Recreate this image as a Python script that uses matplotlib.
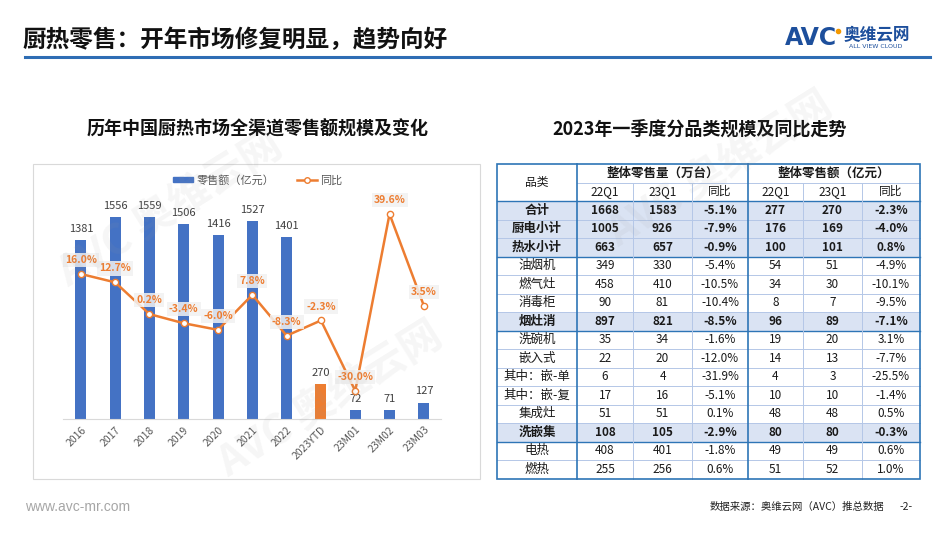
import matplotlib.pyplot as plt
from matplotlib.patches import Rectangle
from matplotlib.lines import Line2D

plt.rcParams['font.family'] = ['Noto Sans CJK SC', 'DejaVu Sans']

# ---- chart data ----
categories = ['2016', '2017', '2018', '2019', '2020', '2021', '2022',
              '2023YTD', '23M01', '23M02', '23M03']
sales = [1381, 1556, 1559, 1506, 1416, 1527, 1401, 270, 72, 71, 127]
yoy = [16.0, 12.7, 0.2, -3.4, -6.0, 7.8, -8.3, -2.3, -30.0, 39.6, 3.5]

# ---- table data ----
row_names = ['合计', '厨电小计', '热水小计', '油烟机', '燃气灶', '消毒柜', '烟灶消',
             '洗碗机', '嵌入式', '其中：嵌-单', '其中：嵌-复', '集成灶', '洗嵌集',
             '电热', '燃热']
vol_22q1 = [1668, 1005, 663, 349, 458, 90, 897, 35, 22, 6, 17, 51, 108, 408, 255]
vol_23q1 = [1583, 926, 657, 330, 410, 81, 821, 34, 20, 4, 16, 51, 105, 401, 256]
vol_yoy = ['-5.1%', '-7.9%', '-0.9%', '-5.4%', '-10.5%', '-10.4%', '-8.5%',
           '-1.6%', '-12.0%', '-31.9%', '-5.1%', '0.1%', '-2.9%', '-1.8%', '0.6%']
val_22q1 = [277, 176, 100, 54, 34, 8, 96, 19, 14, 4, 10, 48, 80, 49, 51]
val_23q1 = [270, 169, 101, 51, 30, 7, 89, 20, 13, 3, 10, 48, 80, 49, 52]
val_yoy = ['-2.3%', '-4.0%', '0.8%', '-4.9%', '-10.1%', '-9.5%', '-7.1%',
           '3.1%', '-7.7%', '-25.5%', '-1.4%', '0.5%', '-0.3%', '0.6%', '1.0%']
bold_rows = ['合计', '厨电小计', '热水小计', '烟灶消', '洗嵌集']

BLUE = '#4472C4'
ORANGE = '#ED7D31'
W, H = 950, 535

fig = plt.figure(figsize=(9.5, 5.35), dpi=100)

# full-figure overlay in pixel units for the slide furniture and the table
bg = fig.add_axes([0, 0, 1, 1])
bg.set_xlim(0, W)
bg.set_ylim(H, 0)
bg.axis('off')

# header
bg.text(22, 40, '厨热零售：开年市场修复明显，趋势向好', fontsize=17, fontweight='bold',
        va='center', ha='left', color='#111111')
bg.plot([25, 930], [57, 57], color='#2e6db4', lw=2.2)
bg.text(785, 38, 'AVC', fontsize=17, fontweight='bold',
        color='#1d4f9c', va='center', ha='left', family='DejaVu Sans')
bg.plot([838], [31], 'o', color='#f39800', ms=3)
bg.text(844, 35, '奥维云网', fontsize=12, fontweight='bold', color='#1d4f9c',
        va='center', ha='left')
bg.text(849, 47, 'ALL VIEW CLOUD', fontsize=4.5, color='#1d4f9c', va='center',
        ha='left', family='DejaVu Sans')

# section titles
bg.text(258, 129, '历年中国厨热市场全渠道零售额规模及变化', fontsize=13,
        fontweight='bold', ha='center', va='center', color='#111111')
bg.text(700, 129, '2023年一季度分品类规模及同比走势', fontsize=13,
        fontweight='bold', ha='center', va='center', color='#111111')

# chart frame
bg.add_patch(Rectangle((33, 164), 447, 315, fill=False, ec='#d9d9d9', lw=0.8))

# footer
bg.text(25, 507, 'www.avc-mr.com', fontsize=10, color='#a6a6a6', va='center',
        family='Liberation Sans')
bg.text(884, 507, '数据来源：奥维云网（AVC）推总数据', fontsize=7.5, color='#222222',
        va='center', ha='right')
bg.text(900, 507, '-2-', fontsize=7.5, color='#222222', va='center', ha='left')

# ---- table ----
col_x = [497, 577, 633, 692, 748, 803, 862, 920]
top, rh = 164, 18.5
n_rows = len(row_names) + 2
bottom = top + n_rows * rh
LINE_LIGHT = '#b4c7e7'
LINE_BLUE = '#2e75b6'
SHADE = '#dae3f3'

for i, name in enumerate(row_names):
    y0 = top + (i + 2) * rh
    if name in bold_rows:
        bg.add_patch(Rectangle((col_x[0], y0), col_x[-1] - col_x[0], rh,
                               fc=SHADE, ec='none', zorder=1))
    weight = 'bold' if name in bold_rows else 'normal'
    cells = [name, vol_22q1[i], vol_23q1[i], vol_yoy[i],
             val_22q1[i], val_23q1[i], val_yoy[i]]
    for j, c in enumerate(cells):
        cx = (col_x[j] + col_x[j + 1]) / 2
        bg.text(cx, y0 + rh / 2, str(c), ha='center', va='center',
                fontsize=8.5 if j else 9, fontweight=weight, color='#1a1a1a', zorder=3)

# header cells
bg.text((col_x[0] + col_x[1]) / 2, top + rh, '品类', ha='center', va='center',
        fontsize=8.5, color='#1a1a1a', zorder=3)
bg.text((col_x[1] + col_x[4]) / 2, top + rh / 2, '整体零售量（万台）', ha='center',
        va='center', fontsize=9, fontweight='bold', color='#1a1a1a', zorder=3)
bg.text((col_x[4] + col_x[7]) / 2, top + rh / 2, '整体零售额（亿元）', ha='center',
        va='center', fontsize=9, fontweight='bold', color='#1a1a1a', zorder=3)
for j, h in enumerate(['22Q1', '23Q1', '同比', '22Q1', '23Q1', '同比']):
    cx = (col_x[j + 1] + col_x[j + 2]) / 2
    bg.text(cx, top + 1.5 * rh, h, ha='center', va='center', fontsize=8.5,
            color='#1a1a1a', zorder=3)

# grid lines
for k in range(1, n_rows):
    y = top + k * rh
    x0 = col_x[1] if k == 1 else col_x[0]
    bg.plot([x0, col_x[-1]], [y, y], color=LINE_LIGHT, lw=0.7, zorder=2)
for k in [2, 5, 9, 15]:
    y = top + k * rh
    bg.plot([col_x[0], col_x[-1]], [y, y], color=LINE_BLUE, lw=1.0, zorder=2)
for x in [col_x[2], col_x[3], col_x[5], col_x[6]]:
    bg.plot([x, x], [top + rh, bottom], color=LINE_LIGHT, lw=0.7, zorder=2)
for x in [col_x[1], col_x[4]]:
    bg.plot([x, x], [top, bottom], color=LINE_BLUE, lw=1.2, zorder=2)
bg.add_patch(Rectangle((col_x[0], top), col_x[-1] - col_x[0], bottom - top,
                       fill=False, ec=LINE_BLUE, lw=1.2, zorder=2))

# ---- bar + line chart ----
ax_l, ax_r, ax_t, ax_b = 63, 441, 190, 419
ax = fig.add_axes([ax_l / W, 1 - ax_b / H, (ax_r - ax_l) / W, (ax_b - ax_t) / H])
ax.patch.set_alpha(0)
x = list(range(len(categories)))
colors = [ORANGE if c == '2023YTD' else BLUE for c in categories]
ax.bar(x, sales, width=0.32, color=colors, zorder=2)
for xi, v in zip(x, sales):
    ax.annotate(str(v), (xi, v), xytext=(0, 8), textcoords='offset points',
                ha='center', va='center', fontsize=8, color='#404040')
ax.set_xlim(-0.52, 10.5)
ax.set_ylim(0, 1767)
ax.set_yticks([])
for s in ['top', 'right', 'left']:
    ax.spines[s].set_visible(False)
ax.spines['bottom'].set_color('#d9d9d9')
ax.set_xticks(x)
ax.set_xticklabels(categories, rotation=45, ha='right', rotation_mode='anchor',
                   fontsize=7.5, color='#595959')
ax.tick_params(axis='x', length=0, pad=4)

ax2 = ax.twinx()
ax2.plot(x, yoy, color=ORANGE, lw=1.8, marker='o', ms=4.5, mfc='white',
         mec=ORANGE, mew=1.0, zorder=3)
for xi, v in zip(x, yoy):
    ax2.annotate(f'{v:.1f}%', (xi, v), xytext=(0, 10), textcoords='offset points',
                 ha='center', va='center', fontsize=7.5, color=ORANGE, fontweight='bold',
                 bbox=dict(boxstyle='square,pad=0.2', fc='#f2f2f2', ec='none', alpha=0.85))
ax2.set_ylim(-41.1, 49.06)
ax2.set_yticks([])
for s in ['top', 'right', 'left', 'bottom']:
    ax2.spines[s].set_visible(False)

handles = [Rectangle((0, 0), 1, 1, color=BLUE),
           Line2D([], [], color=ORANGE, lw=1.8, marker='o', ms=4, mfc='white', mec=ORANGE)]
fig.legend(handles, ['零售额（亿元）', '同比'], loc='center',
           bbox_to_anchor=(258 / W, 1 - 180 / H), ncol=2, frameon=False,
           fontsize=8, labelcolor='#595959', handlelength=1.8, handleheight=0.4,
           columnspacing=2.0, handletextpad=0.3)

# faint watermarks
wm = fig.add_axes([0, 0, 1, 1], zorder=10)
wm.set_xlim(0, W)
wm.set_ylim(H, 0)
wm.axis('off')
for (wx, wy) in [(330, 400), (720, 170), (170, 210)]:
    wm.text(wx, wy, 'AVC 奥维云网', fontsize=30, fontweight='bold', color='#9a9a9a',
            alpha=0.09, rotation=32, ha='center', va='center')

fig.savefig('out.png', dpi=100)
